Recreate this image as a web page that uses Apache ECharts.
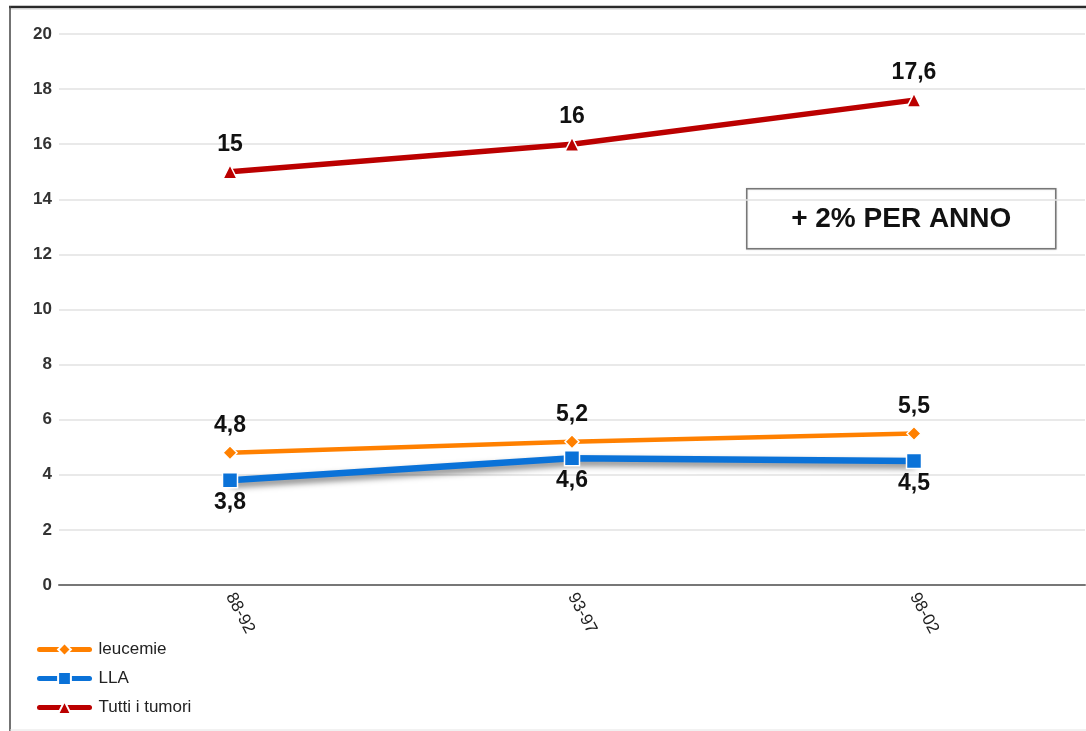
<!DOCTYPE html>
<html>
<head>
<meta charset="utf-8">
<script src="https://cdn.jsdelivr.net/npm/echarts@6/dist/echarts.min.js"></script>
<style>
  html, body { margin: 0; padding: 0; background: #fff; }
  #chart { width: 1086px; height: 731px; }
</style>
</head>
<body>
<div id="chart"></div>
<script>
// Periods on the x axis
const periods = ['88-92', '93-97', '98-02'];
// Incidence rates per period
const leucemie = [4.8, 5.2, 5.5];
const lla = [3.8, 4.6, 4.5];
const tuttiTumori = [15, 16, 17.6];
// Y axis range
const yMin = 0, yMax = 20, yStep = 2;
const noteText = '+ 2% PER ANNO';

const fontFam = '"Liberation Sans", Arial, sans-serif';
const fmt = p => String(p.value).replace('.', ',');
const labelStyle = { show: true, formatter: fmt, fontFamily: fontFam, fontWeight: 'bold', fontSize: 23, color: '#111' };

const chart = echarts.init(document.getElementById('chart'));
chart.setOption({
  backgroundColor: '#fff',
  animation: false,
  grid: { left: 59, right: 1, top: 34, bottom: 146, containLabel: false },
  xAxis: {
    type: 'category',
    data: periods,
    boundaryGap: true,
    axisLine: { lineStyle: { color: '#777', width: 2 } },
    axisTick: { show: false },
    axisLabel: { rotate: -62, margin: 9, fontFamily: fontFam, fontSize: 17, color: '#222' }
  },
  yAxis: {
    type: 'value',
    min: yMin, max: yMax, interval: yStep,
    axisLine: { show: false },
    axisTick: { show: false },
    axisLabel: { margin: 7, fontFamily: fontFam, fontWeight: 'bold', fontSize: 17, color: '#333' },
    splitLine: { lineStyle: { color: '#e2e2e2', width: 1.5 } }
  },
  legend: {
    orient: 'vertical',
    left: 32, top: 636,
    itemWidth: 50, itemHeight: 16, itemGap: 12,
    lineStyle: { width: 5, cap: 'round' },
    textStyle: { fontFamily: fontFam, fontSize: 17, color: '#222', padding: [0, 0, 0, 4] },
    data: ['leucemie', 'LLA', 'Tutti i tumori']
  },
  series: [
    {
      name: 'leucemie', type: 'line', data: leucemie,
      symbol: 'diamond', symbolSize: 14,
      lineStyle: { color: '#ff8000', width: 4.5 },
      itemStyle: { color: '#ff8000', borderColor: '#fff', borderWidth: 1.5 },
      label: Object.assign({ position: 'top', distance: 8 }, labelStyle)
    },
    {
      name: 'LLA', type: 'line', data: lla,
      symbol: 'rect', symbolSize: 15,
      lineStyle: { color: '#0a72d8', width: 6.5, shadowColor: 'rgba(0,0,0,0.5)', shadowBlur: 6, shadowOffsetY: 4, shadowOffsetX: 1 },
      itemStyle: { color: '#0a72d8', borderColor: '#fff', borderWidth: 1.5 },
      label: Object.assign({ position: 'bottom', distance: 3 }, labelStyle)
    },
    {
      name: 'Tutti i tumori', type: 'line', data: tuttiTumori,
      symbol: 'triangle', symbolSize: 14,
      lineStyle: { color: '#bb0000', width: 5.5 },
      itemStyle: { color: '#bb0000', borderColor: '#fff', borderWidth: 1.5 },
      label: Object.assign({ position: 'top', distance: 8 }, labelStyle)
    }
  ],
  graphic: [
    // frame around the chart
    { type: 'line', shape: { x1: 9, y1: 7, x2: 1086, y2: 7 }, style: { stroke: '#2a2a2a', lineWidth: 2.5 }, z: 100 },
    { type: 'line', shape: { x1: 10, y1: 9, x2: 1086, y2: 9 }, style: { stroke: '#d0d0d0', lineWidth: 1 }, z: 100 },
    { type: 'line', shape: { x1: 10, y1: 6, x2: 10, y2: 731 }, style: { stroke: '#444', lineWidth: 1.5 }, z: 100 },
    { type: 'line', shape: { x1: 10, y1: 730, x2: 1086, y2: 730 }, style: { stroke: '#e4e4e4', lineWidth: 1 }, z: 100 },
    // annotation box
    {
      type: 'group', left: 746, top: 188, z: 110,
      children: [
        { type: 'rect', shape: { x: 0, y: 0, width: 309, height: 60 }, style: { fill: '#fff', stroke: '#777', lineWidth: 1.5, shadowColor: 'rgba(0,0,0,0.15)', shadowBlur: 2 } },
        { type: 'text', x: 154.5, y: 31, style: { text: noteText, fill: '#111', font: 'bold 28px ' + fontFam, textAlign: 'center', textVerticalAlign: 'middle' } }
      ]
    }
  ]
});
</script>
</body>
</html>
